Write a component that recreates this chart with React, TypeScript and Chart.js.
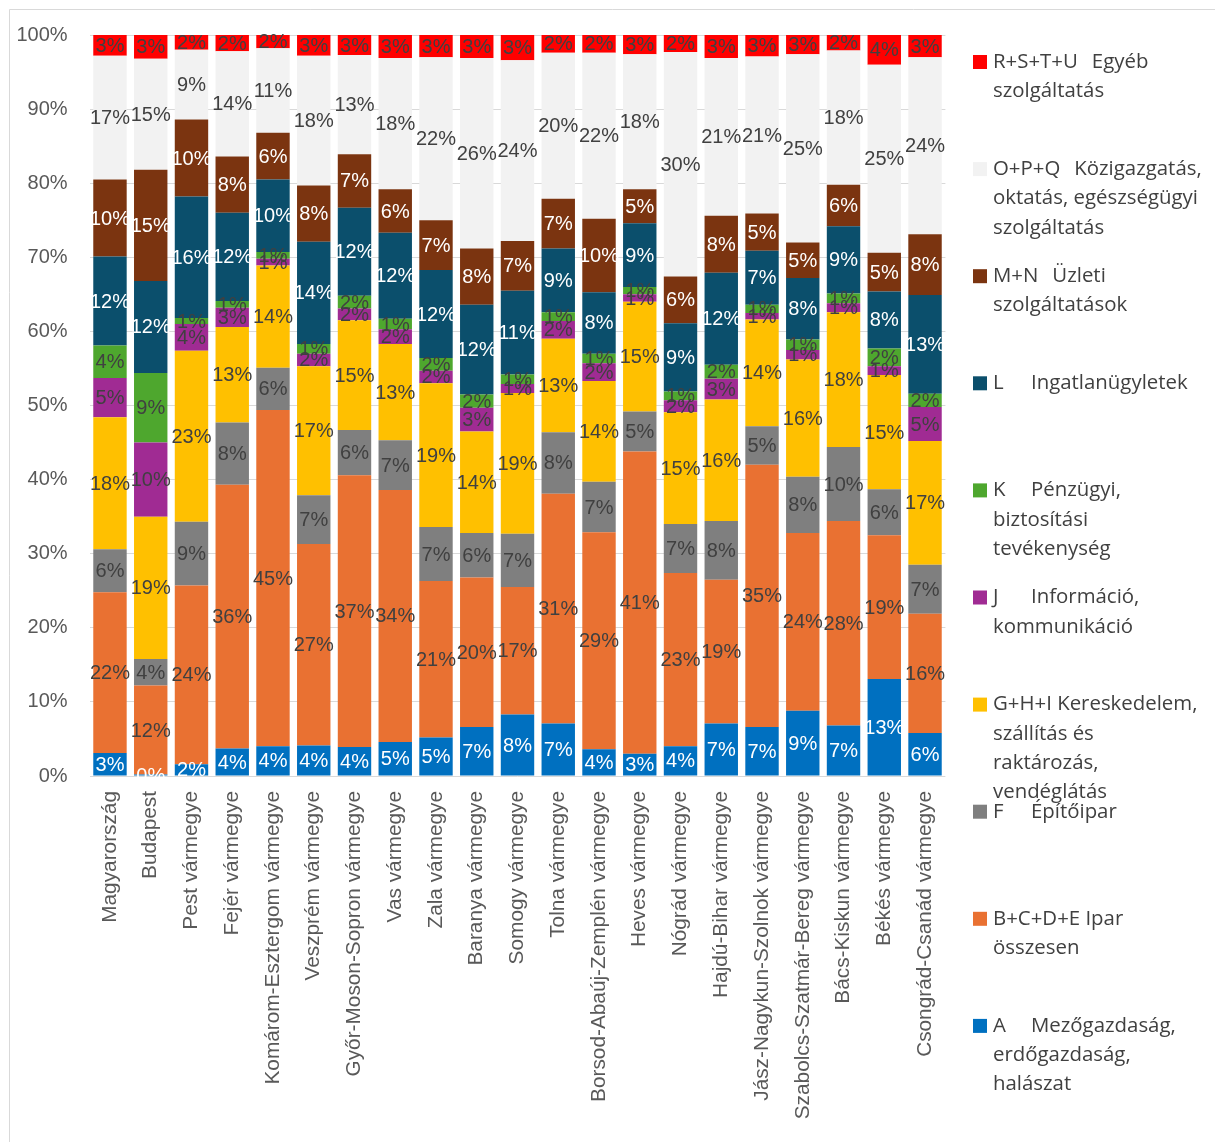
import React, { useEffect, useRef } from 'react';
import { Chart, registerables } from 'chart.js';

Chart.register(...registerables);

const categories = [
  'Magyarország', 'Budapest', 'Pest vármegye', 'Fejér vármegye', 'Komárom-Esztergom vármegye',
  'Veszprém vármegye', 'Győr-Moson-Sopron vármegye', 'Vas vármegye', 'Zala vármegye', 'Baranya vármegye',
  'Somogy vármegye', 'Tolna vármegye', 'Borsod-Abaúj-Zemplén vármegye', 'Heves vármegye', 'Nógrád vármegye',
  'Hajdú-Bihar vármegye', 'Jász-Nagykun-Szolnok vármegye', 'Szabolcs-Szatmár-Bereg vármegye', 'Bács-Kiskun vármegye',
  'Békés vármegye', 'Csongrád-Csanád vármegye',
];

// Series, bottom of the stack first (percent of total)
const agriculture = [3.1, 0.2, 1.6, 3.7, 4.0, 4.1, 3.9, 4.6, 5.2, 6.6, 8.3, 7.1, 3.6, 3.0, 4.0, 7.1, 6.6, 8.8, 6.8, 13.1, 5.8];
const industry = [21.7, 12.0, 24.1, 35.6, 45.4, 27.2, 36.7, 34.0, 21.1, 20.2, 17.2, 31.0, 29.3, 40.8, 23.4, 19.4, 35.4, 24.0, 27.6, 19.4, 16.1];
const construction = [5.8, 3.6, 8.6, 8.4, 5.7, 6.6, 6.1, 6.7, 7.3, 6.0, 7.2, 8.3, 6.8, 5.4, 6.6, 7.9, 5.2, 7.6, 10.0, 6.2, 6.6];
const trade = [17.8, 19.2, 23.1, 12.9, 13.8, 17.4, 14.8, 13.0, 19.4, 13.7, 19.0, 12.6, 13.6, 14.8, 15.1, 16.4, 14.4, 15.8, 18.2, 15.4, 16.7];
const infoComm = [5.3, 10.0, 3.6, 2.6, 0.9, 1.7, 1.6, 2.0, 1.7, 3.2, 1.2, 2.4, 2.4, 1.0, 1.6, 2.8, 0.9, 1.3, 1.2, 1.2, 4.6];
const finance = [4.4, 9.4, 0.8, 0.9, 0.9, 1.3, 1.7, 1.4, 1.7, 1.8, 1.3, 1.2, 1.3, 1.0, 1.2, 1.9, 1.1, 1.4, 1.3, 2.4, 1.8];
const realEstate = [12.0, 12.4, 16.4, 11.9, 9.8, 13.8, 11.9, 11.6, 11.9, 12.1, 11.3, 8.6, 8.3, 8.6, 9.2, 12.4, 7.3, 8.3, 9.1, 7.7, 13.3];
const business = [10.4, 15.0, 10.4, 7.6, 6.3, 7.6, 7.2, 5.9, 6.7, 7.6, 6.7, 6.7, 9.9, 4.6, 6.3, 7.7, 5.0, 4.8, 5.6, 5.2, 8.2];
const publicAdmin = [16.7, 15.0, 9.4, 14.2, 11.4, 17.5, 13.4, 17.7, 22.0, 25.7, 24.4, 19.7, 22.4, 18.2, 30.3, 21.3, 21.2, 25.4, 18.1, 25.4, 23.9];
const otherServices = [2.8, 3.2, 2.0, 2.2, 1.8, 2.8, 2.7, 3.1, 3.0, 3.1, 3.4, 2.4, 2.4, 2.6, 2.3, 3.1, 2.9, 2.6, 2.1, 4.0, 3.0];

const seriesNames = [
  'A Mezőgazdaság, erdőgazdaság, halászat',
  'B+C+D+E Ipar összesen',
  'F Építőipar',
  'G+H+I Kereskedelem, szállítás és raktározás, vendéglátás',
  'J Információ, kommunikáció',
  'K Pénzügyi, biztosítási tevékenység',
  'L Ingatlanügyletek',
  'M+N Üzleti szolgáltatások',
  'O+P+Q Közigazgatás, oktatás, egészségügyi szolgáltatás',
  'R+S+T+U Egyéb szolgáltatás',
];
const seriesValues = [agriculture, industry, construction, trade, infoComm, finance, realEstate, business, publicAdmin, otherServices];
const seriesColors = ['#0070C0', '#E97132', '#7F7F7F', '#FFC000', '#A02B93', '#4EA72E', '#0B4F6C', '#7B3410', '#F2F2F2', '#FF0000'];
const labelColors = ['#FFFFFF', '#404040', '#404040', '#404040', '#404040', '#404040', '#FFFFFF', '#FFFFFF', '#404040', '#404040'];

// Legend lines, top to bottom (tab separates code and name)
const legendLines = [
  ['R+S+T+U\tEgyéb', 'szolgáltatás'],
  ['O+P+Q\tKözigazgatás,', 'oktatás, egészségügyi', 'szolgáltatás'],
  ['M+N\tÜzleti', 'szolgáltatások'],
  ['L\tIngatlanügyletek'],
  ['K\tPénzügyi,', 'biztosítási', 'tevékenység'],
  ['J\tInformáció,', 'kommunikáció'],
  ['G+H+I Kereskedelem,', 'szállítás és', 'raktározás,', 'vendéglátás'],
  ['F\tÉpítőipar'],
  ['B+C+D+E Ipar', 'összesen'],
  ['A\tMezőgazdaság,', 'erdőgazdaság,', 'halászat'],
];

const yTicks = [0, 10, 20, 30, 40, 50, 60, 70, 80, 90, 100];

const FONT = '"Liberation Sans", Arial, sans-serif';
const LEGEND_FONT = '"Open Sans", "Noto Sans", sans-serif';

const framePlugin = {
  id: 'frame',
  beforeDraw(chart: any) {
    const ctx = chart.ctx;
    ctx.save();
    ctx.fillStyle = '#FFFFFF';
    ctx.fillRect(0, 0, chart.width, chart.height);
    ctx.strokeStyle = '#D9D9D9';
    ctx.lineWidth = 1;
    ctx.beginPath();
    ctx.moveTo(9.5, chart.height);
    ctx.lineTo(9.5, 9.5);
    ctx.lineTo(chart.width, 9.5);
    ctx.stroke();
    ctx.restore();
  },
};

const segLabelPlugin = {
  id: 'segLabels',
  afterDatasetsDraw(chart: any) {
    const ctx = chart.ctx;
    ctx.save();
    ctx.font = `20px ${FONT}`;
    ctx.textAlign = 'center';
    ctx.textBaseline = 'middle';
    chart.data.datasets.forEach((ds: any, di: number) => {
      const meta = chart.getDatasetMeta(di);
      meta.data.forEach((bar: any, i: number) => {
        const v = ds.data[i];
        const p = bar.getProps(['x', 'y', 'base'], true);
        ctx.fillStyle = labelColors[di];
        ctx.fillText(Math.round(v) + '%', p.x, (p.y + p.base) / 2 + 1);
      });
    });
    ctx.restore();
  },
};

const legendPlugin = {
  id: 'sideLegend',
  afterDraw(chart: any) {
    const ctx = chart.ctx;
    const markerX = 973;
    const textX = 993;
    const firstY = 62;
    const itemStep = 107.1;
    const lineH = 29.3;
    ctx.save();
    ctx.font = `20.4px ${LEGEND_FONT}`;
    ctx.textBaseline = 'middle';
    ctx.textAlign = 'left';
    legendLines.forEach((lines, k) => {
      const di = seriesNames.length - 1 - k;
      const y0 = firstY + k * itemStep;
      ctx.fillStyle = seriesColors[di];
      ctx.fillRect(markerX, y0 - 7, 14, 14);
      ctx.fillStyle = '#404040';
      lines.forEach((line, li) => {
        const y = y0 + li * lineH;
        const parts = line.split('\t');
        if (parts.length === 2) {
          ctx.fillText(parts[0], textX, y);
          const w = ctx.measureText(parts[0]).width;
          const nx = Math.max(textX + 38, textX + w + 14);
          ctx.fillText(parts[1], nx, y);
        } else {
          ctx.fillText(line, textX, y);
        }
      });
    });
    ctx.restore();
  },
};

export default function App() {
  const ref = useRef<HTMLCanvasElement>(null);
  useEffect(() => {
    if (!ref.current) return;
    const chart = new Chart(ref.current, {
      type: 'bar',
      data: {
        labels: categories,
        datasets: seriesValues.map((vals, i) => ({
          label: seriesNames[i],
          data: vals,
          backgroundColor: seriesColors[i],
          borderWidth: 0,
          barPercentage: 0.82,
          categoryPercentage: 1,
        })),
      },
      options: {
        responsive: false,
        animation: false,
        layout: { padding: { left: 0, top: 35, right: 269.6, bottom: 0 } },
        plugins: {
          legend: { display: false },
          tooltip: { enabled: false },
        },
        scales: {
          x: {
            stacked: true,
            grid: { display: false, drawTicks: false },
            border: { display: false },
            ticks: {
              autoSkip: false,
              maxRotation: 90,
              minRotation: 90,
              padding: 15,
              color: '#595959',
              font: { family: FONT, size: 20.8 },
            },
            afterFit: (s: any) => { s.height = 366; },
          },
          y: {
            stacked: true,
            min: 0,
            max: 100,
            afterBuildTicks: (s: any) => { s.ticks = yTicks.map((v) => ({ value: v })); },
            ticks: {
              callback: (v: any) => v + '%',
              padding: 22,
              color: '#595959',
              font: { family: FONT, size: 20 },
            },
            grid: { color: '#D9D9D9', lineWidth: 1, drawTicks: false },
            border: { display: false },
            afterFit: (s: any) => { s.width = 89.6; },
          },
        },
      },
      plugins: [framePlugin, segLabelPlugin, legendPlugin],
    } as any);
    return () => chart.destroy();
  }, []);
  return (
    <div style={{ position: 'absolute', left: 0, top: 0, width: 1215, height: 1142, background: '#FFFFFF' }}>
      <canvas ref={ref} width={1215} height={1142} style={{ display: 'block', width: 1215, height: 1142 }} />
    </div>
  );
}
